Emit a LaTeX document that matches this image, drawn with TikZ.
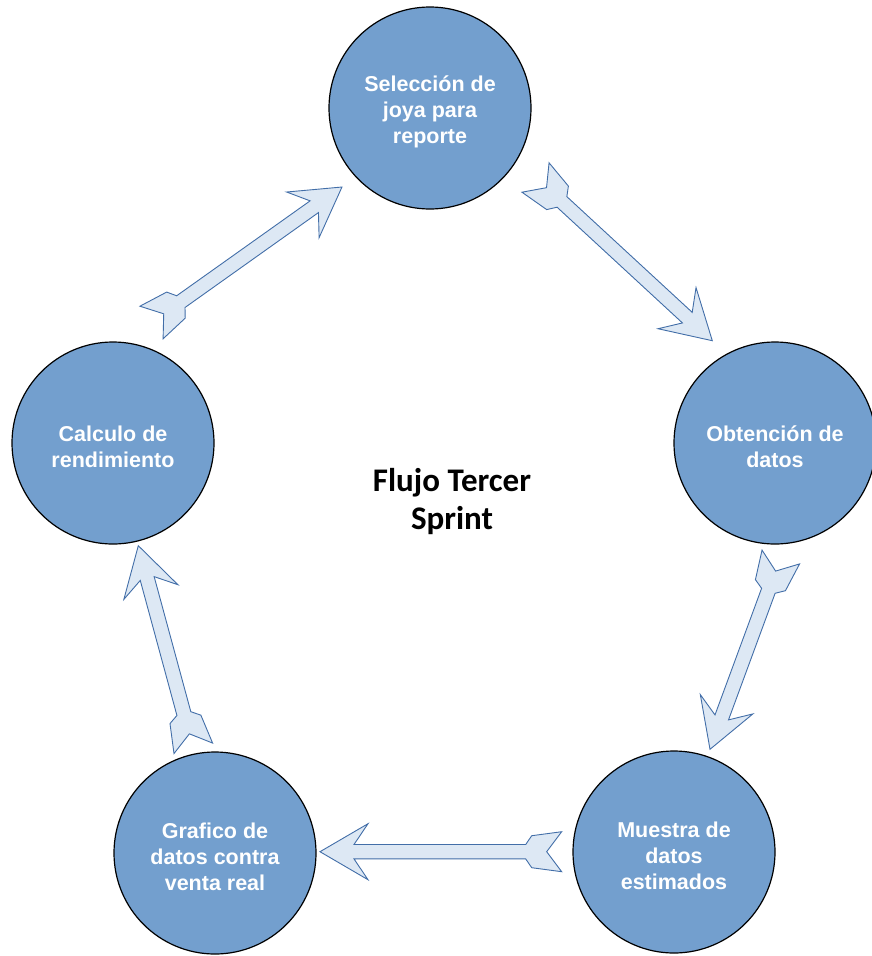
\documentclass[tikz,border=0pt]{standalone}
\usepackage{fontspec}
\setmainfont{Liberation Sans}
\newfontfamily\titlefont{Carlito}
\usetikzlibrary{calc}

\definecolor{stepfill}{RGB}{115,159,206}
\definecolor{arrowfill}{RGB}{221,232,244}
\definecolor{arrowline}{RGB}{66,110,168}

\tikzset{
  stagetext/.style={text=white, align=center, yshift=-3.5pt,
    font={\fontsize{21.5}{26}\selectfont\bfseries}},
  stage/.style={circle, draw=black, line width=1.2pt, fill=stepfill,
    minimum size=202pt, inner sep=0pt,
    label={[stagetext]center:{#1}}},
  blockarrow/.style={draw=arrowline, fill=arrowfill, line width=0.9pt,
    line join=miter},
}

% Feathered block arrow from coordinate #1 (tail) to coordinate #2 (tip)
\newcommand\featherarrow[2]{%
  \path let \p1=($(#2)-(#1)$) in
    \pgfextra{\pgfmathsetmacro\arrang{atan2(\y1,\x1)}%
              \pgfmathsetmacro\arrlen{veclen(\x1,\y1)}%
              \global\let\arrang\arrang\global\let\arrlen\arrlen};
  \begin{scope}[shift={(#1)}, rotate=\arrang]
    \draw[blockarrow] (0pt,20pt) -- (15pt,0pt) -- (0pt,-20pt) -- (30pt,-16pt)
      -- (36pt,-7.2pt) -- ({\arrlen pt-34pt},-7.2pt) -- ({\arrlen pt-48pt},-28pt)
      -- ({\arrlen pt},0pt) -- ({\arrlen pt-48pt},28pt) -- ({\arrlen pt-34pt},7.2pt)
      -- (36pt,7.2pt) -- (30pt,16pt) -- cycle;
  \end{scope}}

\begin{document}
\begin{tikzpicture}[x=1pt, y=-1pt]
  \useasboundingbox (0,0) rectangle (872,956);

  % process stages
  \node[stage={Selección de\\joya para\\reporte}] (sel) at (430,108) {};
  \node[stage={Obtención de\\datos}] (obt) at (775,443) {};
  \node[stage={Muestra de\\datos\\estimados}] (mue) at (674,852) {};
  \node[stage={Grafico de\\datos contra\\venta real}] (gra) at (215,853) {};
  \node[stage={Calculo de\\rendimiento}] (cal) at (113,443) {};

  % title in the middle
  \node[align=center, font={\titlefont\fontsize{33}{38}\selectfont\bfseries}]
    (title) at (452,502) {Flujo Tercer\\Sprint};

  % arrow ends
  \coordinate (calT) at (151.5,322.5);  \coordinate (selH) at (342,187);
  \coordinate (selT) at (535.5,177.5);  \coordinate (obtH) at (712.3,340.7);
  \coordinate (obtT) at (780.8,557);    \coordinate (mueH) at (710,749.3);
  \coordinate (mueT) at (561.7,851.7);  \coordinate (graH) at (320,851.7);
  \coordinate (graT) at (193.3,748.3);  \coordinate (calH) at (138.3,545.7);

  \featherarrow{calT}{selH}
  \featherarrow{selT}{obtH}
  \featherarrow{obtT}{mueH}
  \featherarrow{mueT}{graH}
  \featherarrow{graT}{calH}
\end{tikzpicture}
\end{document}
